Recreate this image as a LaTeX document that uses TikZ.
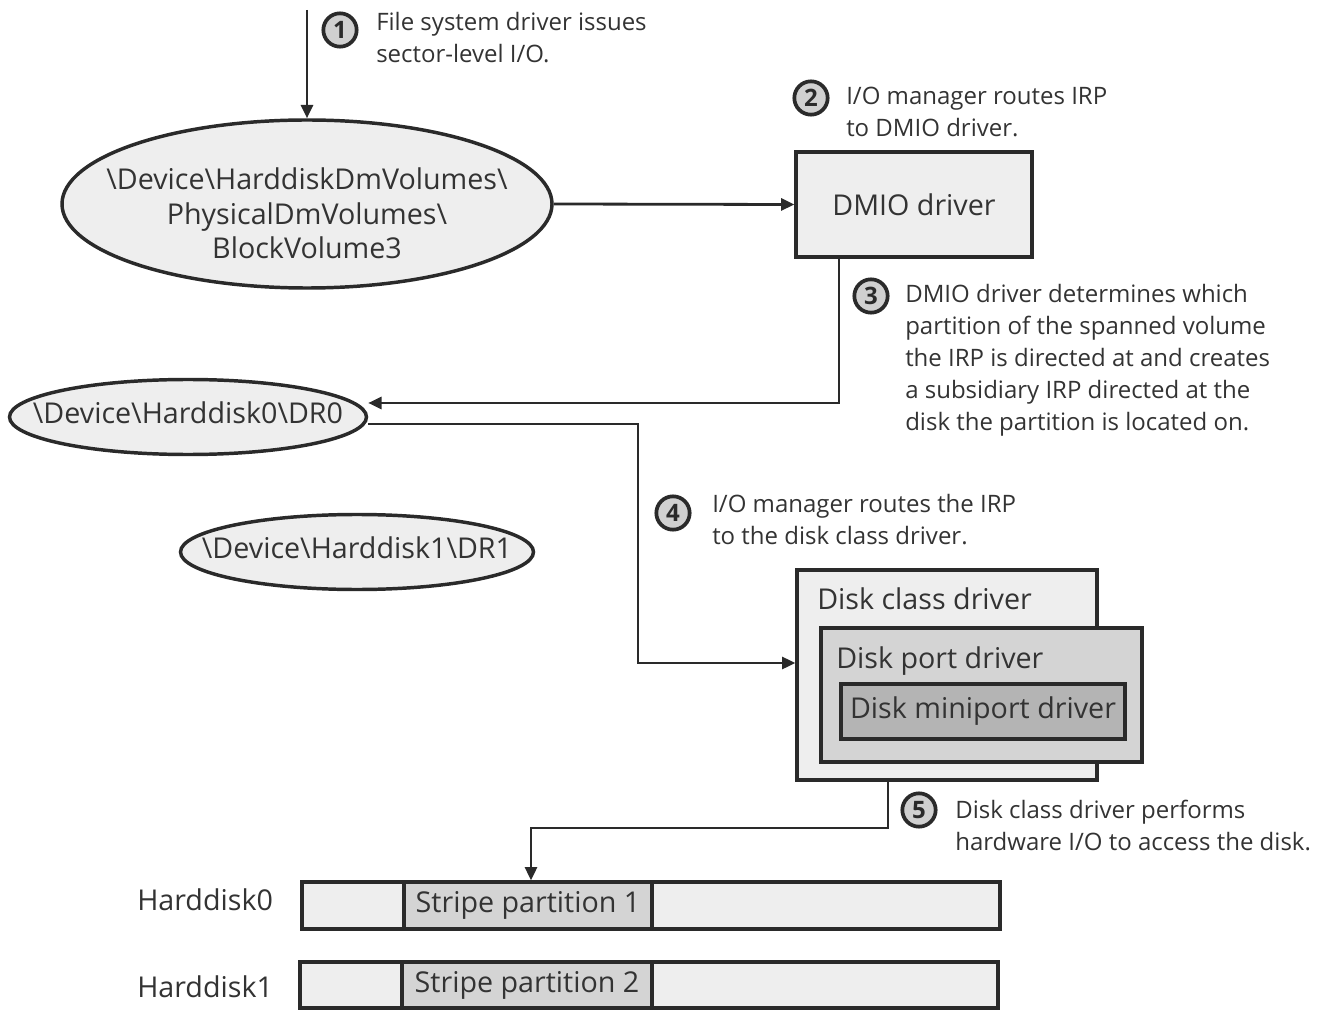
\documentclass[tikz,border=0pt]{standalone}
\usepackage{fontspec}
\setmainfont{Open Sans}
\usetikzlibrary{shapes.geometric,arrows.meta}
\definecolor{ink}{HTML}{2A2A2A}
\definecolor{txt}{HTML}{333333}
\definecolor{light}{HTML}{EEEEEE}
\definecolor{mid}{HTML}{D4D4D4}
\definecolor{dark}{HTML}{B4B4B4}
\definecolor{numfill}{HTML}{D0D0D0}
\newcommand{\zw}[1]{\makebox[0pt][c]{\begin{tabular}{@{}c@{}}#1\end{tabular}}}
\tikzset{
  conn/.style={draw=ink,line width=2.1pt,-{Triangle[length=10pt,width=9pt]}},
  devell/.style={ellipse,draw=ink,line width=2.6pt,fill=light,inner sep=0pt,text=txt},
  boxstyle/.style={rectangle,draw=ink,line width=2.4pt,inner sep=0pt,text=txt},
  numc/.style={circle,draw=ink,line width=2.8pt,fill=numfill,minimum size=25pt,inner sep=0pt,font=\fontsize{18}{18}\selectfont\bfseries,text=ink},
  note/.style={anchor=north west,inner sep=0pt,align=left,text=txt,font=\fontsize{18}{24}\selectfont},
  bigtxt/.style={font=\fontsize{21.5}{26}\selectfont}
}
\begin{document}
\begin{tikzpicture}[x=0.75pt,y=-0.75pt]
\useasboundingbox (0,0) rectangle (1335,1012);
% step 1
\coordinate (start) at (307,10);
\node[numc] (n1) at (340,30) {1};
\node[note] (t1) at (376,12) {File system driver issues\\sector-level I/O.};
\node[devell,minimum width=367.5pt,minimum height=126pt,bigtxt] (vol) at (307,204)
  {\raisebox{-15pt}[10pt][10pt]{\zw{\textbackslash Device\textbackslash HarddiskDmVolumes\textbackslash\\PhysicalDmVolumes\textbackslash\\BlockVolume3}}};
\draw[conn] (start) -- (vol.north);
% step 2
\node[numc] (n2) at (811,98) {2};
\node[note] (t2) at (846,87) {I/O manager routes IRP\\to DMIO driver.};
\node[boxstyle,fill=light,minimum width=177pt,minimum height=78.75pt,bigtxt] (dmio) at (914,204.5) {DMIO driver};
\draw[conn] (vol.east) -- (dmio.west);
% step 3
\node[numc] (n3) at (871,296) {3};
\node[note] (t3) at (905,284) {DMIO driver determines which\\partition of the spanned volume\\the IRP is directed at and creates\\a subsidiary IRP directed at the\\disk the partition is located on.};
\node[devell,minimum width=267.75pt,minimum height=56.25pt,bigtxt] (dr0) at (188,417) {\zw{\textbackslash Device\textbackslash Harddisk0\textbackslash DR0}};
\node[devell,minimum width=264.75pt,minimum height=56.25pt,bigtxt] (dr1) at (357,552) {\zw{\textbackslash Device\textbackslash Harddisk1\textbackslash DR1}};
\coordinate (c3a) at (839,403);
\draw[conn] (dmio.south -| c3a) -- (c3a) -- ([yshift=10.5pt]dr0.east);
% step 4
\node[numc] (n4) at (673,513) {4};
\node[note] (t4) at (712,494) {I/O manager routes the IRP\\to the disk class driver.};
\node[boxstyle,fill=light,minimum width=225pt,minimum height=157.5pt] (class) at (947,675) {};
\node[anchor=north west,inner sep=0pt,text=txt,bigtxt] (classt) at (817,587) {Disk class driver};
\node[boxstyle,fill=mid,minimum width=240.75pt,minimum height=100.5pt] (port) at (981.5,695) {};
\node[anchor=north west,inner sep=0pt,text=txt,bigtxt] (portt) at (836,646) {Disk port driver};
\node[boxstyle,fill=dark,minimum width=213pt,minimum height=41.25pt,bigtxt] (mini) at (983,711.5) {Disk miniport driver};
\coordinate (c4a) at (638,424);
\coordinate (c4b) at (638,663);
\draw[conn] ([yshift=-5.25pt]dr0.east) -- (c4a) -- (c4b) -- (c4b -| class.west);
% step 5
\node[numc] (n5) at (919,810) {5};
\node[note] (t5) at (955,800) {Disk class driver performs\\hardware I/O to access the disk.};
\node[boxstyle,fill=light,minimum width=523.5pt,minimum height=35.25pt] (hd0) at (651,905.5) {};
\node[boxstyle,fill=mid,minimum width=186pt,minimum height=35.25pt,bigtxt] (sp1) at (528,905.5) {Stripe partition 1};
\node[boxstyle,fill=light,minimum width=523.5pt,minimum height=34.5pt] (hd1) at (649,985) {};
\node[boxstyle,fill=mid,minimum width=187.5pt,minimum height=34.5pt,bigtxt] (sp2) at (527,985) {Stripe partition 2};
\node[anchor=west,inner sep=0pt,text=txt,bigtxt] (l0) at (137,900) {Harddisk0};
\node[anchor=west,inner sep=0pt,text=txt,bigtxt] (l1) at (137,987) {Harddisk1};
\coordinate (c5a) at (888,828);
\coordinate (c5b) at (531,828);
\draw[conn] (class.south -| c5a) -- (c5a) -- (c5b) -- (c5b |- hd0.north);
\end{tikzpicture}
\end{document}
